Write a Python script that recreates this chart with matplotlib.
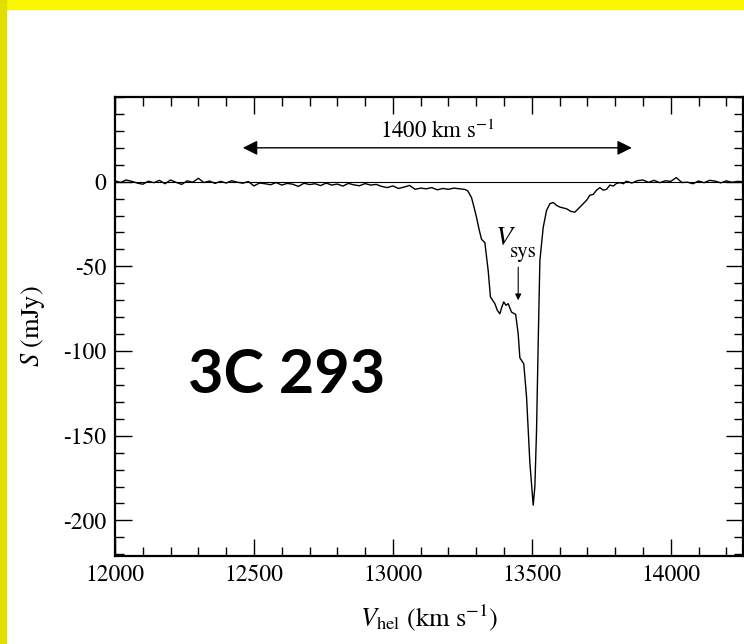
import numpy as np
import matplotlib.pyplot as plt
from matplotlib.ticker import MultipleLocator, FuncFormatter
from matplotlib.patches import Rectangle

plt.rcParams['font.family'] = 'STIXGeneral'
plt.rcParams['mathtext.fontset'] = 'stix'

# HI absorption spectrum of 3C 293
vel_base1 = [12000, 12020, 12040, 12060, 12080, 12100, 12120, 12140, 12160, 12180,
             12200, 12220, 12240, 12260, 12280, 12300, 12320, 12340, 12360, 12380,
             12400, 12420, 12440, 12460, 12480, 12500, 12520, 12540, 12560, 12580,
             12600, 12620, 12640, 12660, 12680, 12700, 12720, 12740, 12760, 12780,
             12800, 12820, 12840, 12860, 12880, 12900, 12920, 12940, 12960, 12980,
             13000, 13020, 13040, 13060, 13080, 13100, 13120, 13140, 13160, 13180,
             13200, 13220, 13240, 13260]
flux_base1 = [0.5, -0.5, 1.0, 0.2, -0.8, -1.5, 0.3, -0.6, 0.8, -1.2,
              1.0, -0.4, -1.6, 0.5, -0.3, 2.0, -0.5, 0.4, -1.0, 0.2,
              -0.8, 0.6, -0.3, -0.9, 0.1, -2.5, -0.8, -1.2, -1.8, -0.5,
              -2.0, -1.0, -1.5, -2.8, -0.9, -1.7, -1.2, -2.3, -0.8, -2.0,
              -1.4, -2.6, -1.0, -1.9, -2.4, -1.1, -2.0, -1.6, -2.8, -3.5,
              -2.5, -4.0, -3.2, -2.2, -4.5, -3.8, -4.2, -3.5, -4.8, -4.0,
              -4.5, -3.8, -4.2, -4.6]

vel_line = [13270, 13283, 13292, 13301, 13310, 13319, 13331, 13337, 13343, 13351,
            13359, 13367, 13376, 13385, 13392, 13399, 13407, 13415, 13427, 13442,
            13451, 13457, 13471, 13481, 13493, 13505, 13511, 13517, 13523, 13529,
            13541, 13553, 13565, 13577, 13589, 13601, 13613, 13625, 13640, 13655,
            13673, 13685, 13697, 13709, 13721, 13733, 13745, 13757, 13769, 13781,
            13793, 13805, 13817, 13830]
flux_line = [-5.5, -9.4, -15, -21, -28, -34, -36, -44, -52.5, -68,
             -70, -72, -76, -78, -74, -71, -73, -72, -77, -78.4,
             -90, -104, -107.5, -127, -166, -191, -180, -147, -95, -46.6,
             -27, -17, -13, -12.3, -14, -15, -15.5, -16, -17.5, -18,
             -15, -13, -11, -8, -7.5, -5, -3.5, -5, -4.5, -2.0,
             -2.6, -1.0, -0.6, -1.2]

vel_base2 = [13840, 13860, 13880, 13900, 13920, 13940, 13960, 13980, 14000, 14020,
             14040, 14060, 14080, 14100, 14120, 14140, 14160, 14180, 14200, 14220,
             14240, 14260]
flux_base2 = [0.3, -0.8, 0.6, 1.0, -0.4, 0.8, -0.6, 0.5, 0.2, 2.4,
              -0.5, -0.3, -1.2, 0.4, -0.6, 0.8, 0.3, -0.7, 0.5, -0.4,
              0.2, 0.0]

vel = vel_base1 + vel_line + vel_base2
flux = flux_base1 + flux_line + flux_base2

width_arrow = (12460, 13860)
v_sys = 13451

fig = plt.figure(figsize=(7.44, 6.44), dpi=100)

# yellow frame (top and left)
fig.patches.append(Rectangle((0, 1 - 9 / 644), 1, 9 / 644, transform=fig.transFigure,
                             color='#fbf500', zorder=0))
fig.patches.append(Rectangle((0, 0), 6 / 744, 1, transform=fig.transFigure,
                             color='#e2de00', zorder=0))

ax = fig.add_axes([115 / 744, 1 - 556 / 644, (743 - 115) / 744, (556 - 97) / 644])

ax.plot(vel, flux, color='black', lw=1.0)
ax.axhline(0, color='black', lw=0.8)

ax.set_xlim(12000, 14260)
ax.set_ylim(-221, 50)

ax.xaxis.set_major_locator(MultipleLocator(500))
ax.xaxis.set_minor_locator(MultipleLocator(100))
ax.set_yticks([0, -50, -100, -150, -200])
ax.yaxis.set_minor_locator(MultipleLocator(10))
ax.yaxis.set_major_formatter(FuncFormatter(lambda v, p: '%d' % v))
ax.tick_params(which='both', direction='in', top=True, right=True, width=1.0,
               labelsize=17)
ax.tick_params(which='major', length=12, pad=6)
ax.tick_params(which='minor', length=6.5)
for s in ax.spines.values():
    s.set_linewidth(1.6)

ax.set_xlabel(r'$V_{\rm hel}\ (\rm km\ s^{-1})$', fontsize=19, labelpad=12)
ax.set_ylabel(r'$S$ (mJy)', fontsize=19, labelpad=12)

# 1400 km/s width arrow
ax.annotate('', xy=(width_arrow[0], 20), xytext=(width_arrow[1], 20),
            arrowprops=dict(arrowstyle='<|-|>', color='black', lw=1.0,
                            mutation_scale=22, shrinkA=0, shrinkB=0))
ax.text(sum(width_arrow) / 2, 23, r'1400 km s$^{-1}$', fontsize=16.5,
        ha='center', va='bottom')

# systemic velocity marker
ax.annotate('', xy=(v_sys, -70), xytext=(v_sys, -50.5),
            arrowprops=dict(arrowstyle='-|>', color='black', lw=0.8,
                            mutation_scale=9, shrinkA=0, shrinkB=0))
ax.text(13403, -33.5, 'V', fontsize=20, style='italic', ha='center', va='center')
ax.text(13471, -41.8, 'sys', fontsize=15, ha='center', va='center')

ax.text(12619, -114, '3C 293', fontsize=44, fontweight='bold', family='Lato',
        ha='center', va='center')

fig.savefig('out.png', dpi=100)
